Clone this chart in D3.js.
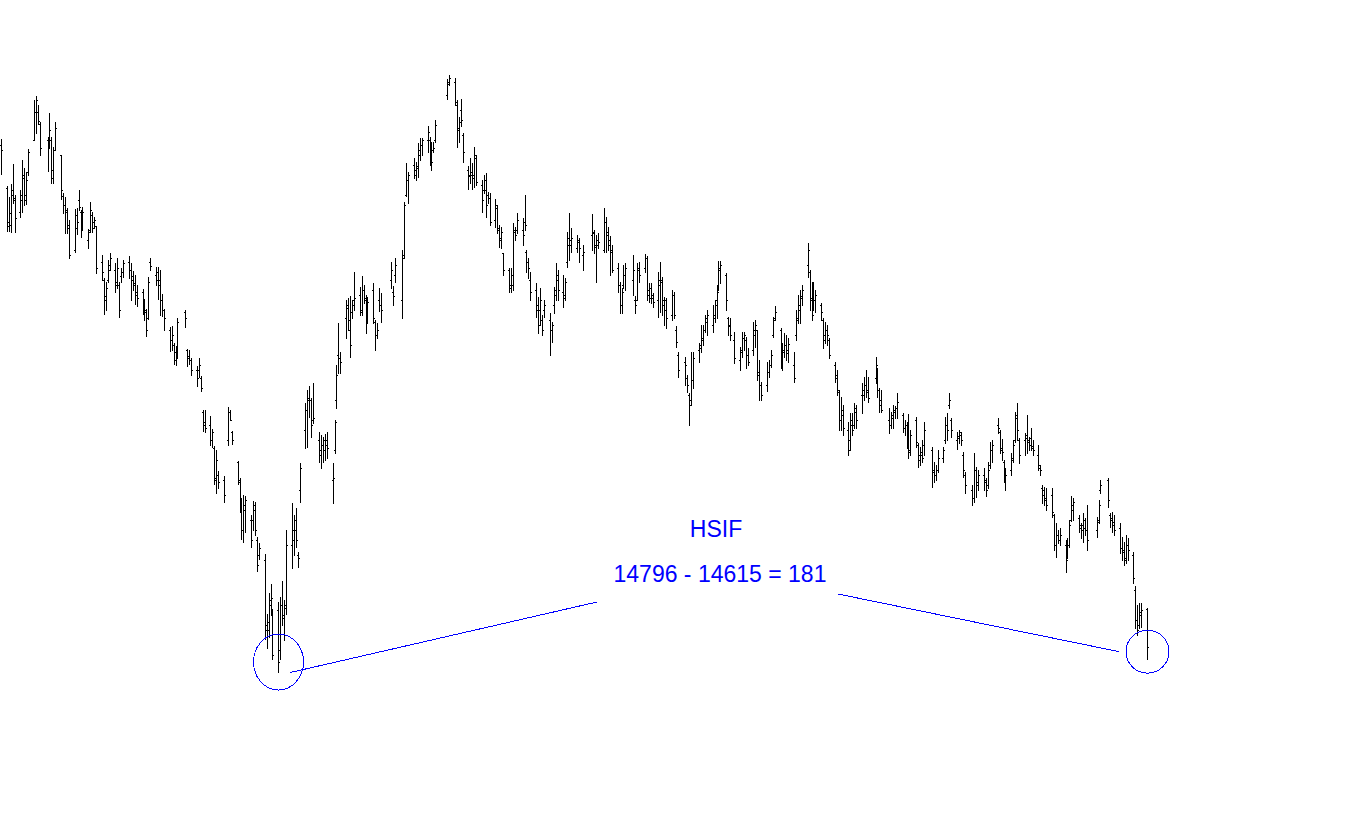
<!DOCTYPE html>
<html>
<head>
<meta charset="utf-8">
<script src="https://cdn.jsdelivr.net/npm/d3@7"></script>
<style>
  body { margin: 0; background: #fff; }
</style>
</head>
<body>
<div id="chart"></div>
<script>
// HSIF daily bars, 10 Jun 2022 - 22 Jan 2024 (one line per month)
var holidays = ["2022-07-01", "2022-09-12", "2022-10-04", "2022-12-26", "2022-12-27",
  "2023-01-02", "2023-01-23", "2023-01-24", "2023-01-25", "2023-04-05", "2023-04-07",
  "2023-04-10", "2023-05-01", "2023-05-26", "2023-06-22", "2023-09-01", "2023-09-08",
  "2023-10-02", "2023-10-23", "2023-12-25", "2023-12-26", "2024-01-01"];

var open = [
  21766, 21183, 20722, 20681, 21156, 21020, 20857, 21088, 21319, 21088, 21400, 21834, 22214, 22214, 22051,
  21834, 21807, 21834, 21427, 21699, 21631, 21074, 20952, 20857, 20640, 20342, 20640, 21020, 20857, 20640, 20477, 20613, 20816, 20722, 20667,
  20179, 19934, 19717, 19934, 20138, 20070, 19907, 19867, 19989, 20043, 20179, 20070, 19989, 19894, 19772, 19772, 19595, 19500, 19419, 20179, 20002, 20043, 19867,
  19663, 19527, 19256, 19120, 19052, 18957, 18917, 19500, 18985, 18903, 18849, 18713, 18713, 18605, 18143, 17967, 17967, 17763, 17655, 17220, 17288,
  17220, 17763, 18143, 17872, 17465, 17220, 16881, 16542, 16881, 16678, 16678, 16881, 16406, 16203, 16135, 15253, 15185, 15592, 15429, 15456,
  14914, 15524, 15348, 15524, 16338, 16542, 16678, 16203, 17085, 17899, 18170, 18306, 18306, 18035, 17763, 17628, 17695, 17763, 17763, 17220, 17628, 18306,
  18917, 18876, 19419, 19554, 19256, 19500, 19663, 19731, 19527, 19799, 19663, 19419, 19799, 19365, 19188, 19663, 19595, 19934, 19772, 20002,
  19663, 20274, 21088, 21291, 21495, 21359, 21454, 21631, 21766, 21834, 21834, 21699, 21699, 21834, 22445, 22621, 22621, 22309,
  21970, 22241, 21902, 21427, 21359, 21400, 21359, 21590, 21223, 21156, 21156, 21088, 21047, 20749, 20911, 20613, 20477, 20301, 20070, 19867,
  19867, 20586, 20613, 20613, 20722, 20314, 20179, 19934, 19799, 19595, 19527, 19392, 19527, 19392, 19256, 19595, 19799, 20002, 19772, 19731, 20179, 20409, 20477,
  20369, 20450, 20274, 20545, 20586, 20382, 20477, 20342, 20722, 20545, 20477, 20342, 20097, 19867, 19595, 19867, 20002,
  19934, 19663, 19663, 20070, 20097, 20233, 19731, 19826, 19690, 19663, 19867, 19907, 19595, 19527, 19459, 19731, 19256, 18917, 18822, 18605, 18374,
  18306, 18577, 18985, 19052, 19120, 19256, 19419, 19324, 19459, 19663, 19867, 20070, 20002, 19419, 19324, 19120, 18849, 18985, 19147, 19120, 18917,
  18985, 19188, 19256, 18645, 18510, 18510, 18686, 18781, 19188, 19419, 19256, 18876, 18957, 19052, 18985, 18781, 19188, 19392, 19595, 19717, 20138,
  20043, 19690, 19731, 19663, 19595, 19392, 19188, 19256, 19120, 18781, 18605, 18415, 18035, 18102, 17899, 17763, 17967, 17967, 18143, 18374, 18442, 18510, 18415,
  18605, 18713, 18442, 18238, 18035, 17967, 18062, 18170, 18197, 18102, 17926, 17967, 17763, 17628, 18035, 17695, 17560, 17560, 17695,
  17628, 17329, 17288, 17356, 17519, 17763, 17967, 18238, 18035, 17763, 17790, 17831, 17560, 17288, 17085, 16976, 17356, 17193, 17288, 17193,
  17153, 17424, 17628, 17967, 17872, 17655, 17465, 17248, 17356, 17519, 17763, 18102, 17763, 17763, 17831, 17736, 17790, 17682, 17560, 17383, 17112, 17017,
  16976, 17017, 16745, 16338, 16474, 16406, 16338, 16243, 16338, 16678, 16881, 16705, 16569, 16610, 16569, 16542, 16542, 16678, 17085,
  17220, 16745, 16705, 16610, 16569, 16298, 16271, 16162, 16338, 16203, 15728, 15321, 15253, 15429, 15470
];

var high = [
  21848, 21210, 21061, 21237, 21509, 21088, 21156, 21563, 21454, 21400, 21712, 22377, 22431, 22309, 22078,
  21875, 22201, 21875, 21739, 22078, 21631, 21115, 21061, 20911, 20749, 20898, 20911, 21156, 20884, 20925, 20627, 20993, 20857, 20789, 20667,
  20274, 19962, 19907, 20206, 20301, 20165, 20233, 19907, 20097, 20206, 20260, 20165, 20057, 20002, 19867, 19812, 19677, 19541, 19975, 20233, 20111, 20111, 20070,
  19744, 19541, 19297, 19310, 19080, 19039, 19419, 19527, 18998, 18985, 18876, 18767, 18876, 18632, 18170, 18170, 18089, 17913, 17682, 17628, 17343,
  17275, 18211, 18170, 17885, 17478, 17248, 16976, 17017, 17003, 16745, 16935, 16922, 16447, 16366, 16216, 15402, 15687, 15809, 15470, 15565,
  15633, 15850, 15592, 16542, 16908, 16745, 16840, 16243, 17451, 18265, 18442, 18496, 18333, 18537, 17872, 17831, 17804, 17845, 17872, 17451, 18035, 18781,
  19351, 18957, 19663, 19690, 19717, 19663, 20043, 19839, 19989, 19867, 19731, 19704, 19894, 19392, 19351, 19826, 19758, 20179, 19853, 20233,
  20342, 20993, 21522, 21400, 21590, 21536, 21794, 21861, 21861, 22024, 21875, 21807, 21807, 22106, 22662, 22716, 22676, 22377,
  22146, 22391, 21929, 21481, 21590, 21522, 21739, 21631, 21291, 21359, 21386, 21129, 21115, 21034, 20952, 20681, 20654, 20301, 20097, 20097,
  20708, 20654, 20844, 20776, 21088, 20342, 20233, 20043, 19894, 19704, 19826, 19459, 19663, 19487, 19365, 19839, 20165, 20070, 20002, 19962, 20586, 20844, 20640,
  20545, 20504, 20409, 20830, 20613, 20545, 20572, 20911, 20789, 20654, 20531, 20409, 20165, 19907, 19826, 20138, 20165,
  20274, 19717, 20165, 20179, 20287, 20260, 19894, 19894, 19758, 20043, 20179, 19975, 19704, 19690, 19799, 19772, 19310, 18957, 18890, 18645, 18401,
  18957, 18957, 19080, 19324, 19324, 19459, 19527, 19595, 19663, 19853, 20192, 20192, 20029, 19432, 19419, 19229, 19025, 19229, 19229, 19161, 19012,
  19365, 19392, 19256, 18849, 18550, 18822, 18849, 18985, 19432, 19582, 19283, 19080, 19215, 19188, 19147, 18957, 19527, 19731, 19799, 19867, 20436,
  20070, 19907, 19907, 19799, 19622, 19419, 19365, 19324, 19147, 18822, 18713, 18442, 18347, 18238, 18008, 18130, 18130, 18265, 18238, 18537, 18618, 18713, 18618,
  18890, 18740, 18469, 18442, 18197, 18143, 18238, 18225, 18401, 18130, 18035, 18008, 18116, 17899, 18075, 17722, 17668, 17763, 18008,
  17668, 17465, 17424, 17628, 17668, 18075, 18130, 18401, 18062, 17872, 17899, 17872, 17600, 17329, 17153, 17587, 17397, 17356, 17383, 17248,
  17465, 17736, 17763, 18062, 17899, 17777, 17492, 17383, 17587, 17763, 18143, 18265, 17790, 17858, 18102, 17804, 17926, 17763, 17695, 17424, 17153, 17125,
  17112, 17112, 16759, 16637, 16542, 16569, 16406, 16433, 16678, 17003, 16976, 16745, 16637, 16773, 16705, 16881, 16718, 16949, 17220,
  17248, 16773, 16786, 16745, 16637, 16447, 16379, 16474, 16433, 16243, 15782, 15524, 15551, 15551, 15483
];

var low = [
  21373, 20599, 20599, 20586, 20979, 20586, 20789, 20857, 20952, 20966, 21359, 21834, 21929, 22051, 21631,
  21414, 21726, 21251, 21251, 21699, 21034, 20844, 20572, 20572, 20233, 20314, 20559, 20884, 20518, 20613, 20369, 20586, 20586, 20640, 20029,
  19934, 19473, 19527, 19907, 20070, 19772, 19826, 19432, 19907, 19975, 19962, 19663, 19799, 19609, 19582, 19473, 19392, 19175, 19405, 20070, 19867, 19677, 19459,
  19446, 19256, 18971, 18985, 18795, 18781, 18876, 19297, 18767, 18795, 18645, 18496, 18618, 18428, 17885, 17872, 17695, 17668, 17166, 17044, 17112,
  16922, 17695, 18035, 17709, 17166, 16786, 16420, 16379, 16515, 16311, 16542, 16474, 15986, 16148, 15063, 14941, 15090, 15388, 14791, 14615,
  14791, 15253, 15049, 15402, 16026, 16203, 16311, 16040, 16922, 17655, 17668, 18075, 17804, 17994, 17465, 17383, 17465, 17492, 17519, 16908, 17587, 18197,
  18672, 18672, 19147, 19256, 18890, 19419, 19527, 19459, 19459, 19622, 19215, 19351, 19351, 18985, 19147, 19514, 19365, 19826, 19595, 19907,
  19419, 20233, 21074, 20979, 21319, 21291, 21332, 21563, 21631, 21671, 21495, 21427, 21671, 21807, 22391, 22581, 22309, 21739,
  21807, 22024, 21536, 21169, 21251, 21169, 21196, 21223, 20857, 21115, 20789, 20979, 20681, 20654, 20572, 20382, 20369, 20002, 19772, 19772,
  19799, 20477, 20572, 20409, 20613, 20043, 19962, 19663, 19432, 19215, 19324, 19188, 19432, 18917, 19093, 19487, 19663, 19663, 19568, 19663, 20111, 20206, 20314,
  20314, 20179, 20070, 20342, 20301, 19907, 20369, 20314, 20314, 20342, 20002, 20043, 19772, 19487, 19487, 19826, 19799,
  19731, 19487, 19663, 19907, 20043, 19663, 19636, 19622, 19568, 19432, 19500, 19459, 19324, 19283, 19392, 19419, 19025, 18618, 18510, 18415, 17967,
  18238, 18469, 18822, 18957, 19052, 19229, 19188, 19229, 19365, 19419, 19799, 19894, 19527, 19188, 19120, 18808, 18713, 18890, 18985, 18740, 18781,
  18917, 19025, 18577, 18306, 18306, 18428, 18618, 18754, 19161, 19392, 18740, 18713, 18890, 18849, 18822, 18550, 19120, 19351, 19351, 19595, 19975,
  19527, 19392, 19527, 19500, 19392, 19012, 19080, 19052, 18876, 18550, 18374, 17899, 17899, 17831, 17560, 17628, 17831, 17926, 17926, 18130, 18306, 18347, 18279,
  18537, 18347, 18143, 18143, 17858, 17926, 17926, 18062, 18062, 17872, 17831, 17655, 17519, 17560, 17668, 17397, 17424, 17465, 17560,
  17125, 17193, 17220, 17329, 17465, 17722, 17763, 18197, 17804, 17641, 17722, 17695, 17261, 17044, 16881, 16922, 16990, 17085, 17085, 17003,
  17112, 17383, 17465, 17858, 17587, 17492, 17193, 17085, 17288, 17465, 17736, 17763, 17451, 17560, 17587, 17628, 17628, 17560, 17356, 17288, 16908, 16881,
  16813, 16718, 16271, 16176, 16366, 16338, 15972, 16162, 16311, 16664, 16678, 16515, 16433, 16379, 16474, 16271, 16447, 16637, 17044,
  16854, 16583, 16515, 16474, 16230, 16135, 16067, 16094, 16135, 15823, 15212, 15117, 15212, 15226, 14796
];

var close = [
  21699, 20667, 20844, 21088, 21047, 20776, 21020, 21359, 21020, 21291, 21671, 22214, 22377, 22092, 21726,
  21766, 21970, 21319, 21699, 21997, 21156, 20952, 20884, 20681, 20274, 20816, 20722, 20925, 20613, 20857, 20586, 20884, 20640, 20749, 20097,
  20043, 19663, 19826, 20070, 20233, 19867, 20097, 19527, 20043, 20165, 20070, 19934, 19867, 19731, 19690, 19595, 19527, 19256, 19907, 20124, 19934, 19934, 19663,
  19527, 19419, 19120, 19188, 18849, 18985, 19365, 19419, 18876, 18849, 18713, 18605, 18781, 18469, 18008, 17926, 17763, 17872, 17248, 17492, 17193,
  17017, 18143, 18035, 17763, 17193, 16881, 16542, 16813, 16949, 16406, 16813, 16542, 16067, 16298, 15185, 15294, 15524, 15619, 14846, 14751,
  15524, 15388, 15483, 16338, 16406, 16542, 16406, 16162, 17383, 18170, 18333, 18306, 17967, 18062, 17560, 17695, 17628, 17695, 17655, 17248, 18008, 18645,
  18876, 18822, 19595, 19392, 19052, 19595, 19690, 19500, 19799, 19690, 19392, 19636, 19419, 19188, 19256, 19595, 19527, 20070, 19717, 20138,
  20233, 20952, 21291, 21359, 21427, 21481, 21699, 21766, 21834, 21943, 21671, 21536, 21726, 22038, 22594, 22676, 22350, 21997,
  22078, 22106, 21671, 21346, 21359, 21319, 21631, 21264, 21020, 21291, 20952, 21047, 20722, 20952, 20640, 20504, 20586, 20070, 19826, 20002,
  20613, 20545, 20749, 20545, 20681, 20179, 20097, 19772, 19527, 19324, 19663, 19256, 19595, 19256, 19324, 19731, 19934, 19799, 19690, 19907, 20504, 20409, 20504,
  20477, 20369, 20314, 20572, 20409, 20409, 20450, 20722, 20586, 20409, 20314, 20070, 19867, 19595, 19772, 20002, 20097,
  20070, 19595, 20097, 20002, 20233, 19799, 19690, 19731, 19636, 19934, 19934, 19663, 19663, 19419, 19731, 19459, 19093, 18713, 18781, 18510, 18238,
  18577, 18876, 19012, 19147, 19256, 19365, 19459, 19419, 19595, 19772, 20097, 20138, 19663, 19310, 19188, 18876, 18957, 19147, 19188, 18917, 18822,
  19256, 19324, 18686, 18510, 18374, 18686, 18781, 18917, 19392, 19500, 18849, 18985, 19052, 18944, 19066, 18605, 19419, 19527, 19690, 19799, 20342,
  19663, 19459, 19663, 19731, 19500, 19120, 19256, 19188, 18917, 18645, 18442, 18035, 18170, 17926, 17628, 18035, 17899, 18197, 18035, 18374, 18510, 18442, 18333,
  18781, 18442, 18306, 18170, 17967, 18102, 18143, 18197, 18279, 17926, 17967, 17763, 17600, 17831, 17736, 17492, 17600, 17519, 17899,
  17356, 17288, 17356, 17519, 17628, 17967, 17899, 18306, 17899, 17818, 17872, 17763, 17356, 17153, 16976, 17356, 17153, 17288, 17220, 17085,
  17356, 17628, 17695, 17926, 17628, 17600, 17248, 17288, 17492, 17695, 18062, 17899, 17560, 17790, 17763, 17695, 17655, 17628, 17424, 17356, 17085, 16949,
  16881, 16786, 16338, 16474, 16406, 16474, 16135, 16338, 16610, 16813, 16922, 16610, 16542, 16678, 16542, 16406, 16650, 16881, 17153,
  16949, 16678, 16650, 16542, 16298, 16243, 16135, 16338, 16271, 15890, 15321, 15185, 15388, 15456, 14955
];

var label = "HSIF";
var markA = "2022-10-31", markB = "2024-01-22";

var width = 1351, height = 819;
var parse = d3.timeParse("%Y-%m-%d"), fmt = d3.timeFormat("%Y-%m-%d");

// trading days: weekdays minus exchange holidays
var days = d3.timeDay.range(new Date(2022, 5, 10), new Date(2024, 0, 23))
  .filter(function(d) { var w = d.getDay(); return w > 0 && w < 6 && holidays.indexOf(fmt(d)) < 0; });
if (days.length !== open.length) console.log("length mismatch", days.length, open.length);

var data = days.map(function(d, i) {
  return { date: d, key: fmt(d), o: open[i], h: high[i], l: low[i], c: close[i] };
});

var svg = d3.select("#chart")
  .append("svg")
    .attr("width", width)
    .attr("height", height)
    .style("display", "block");

svg.append("rect").attr("width", width).attr("height", height).attr("fill", "#fff");

var x = d3.scaleTime()
  .domain(d3.extent(data, function(d) { return d.date; }))
  .range([1, 1147]);

var y = d3.scaleLinear()
  .domain([d3.min(data, function(d) { return d.l; }), d3.max(data, function(d) { return d.h; })])
  .range([672, 75]);

var bars = svg.append("g")
  .attr("fill", "#000")
  .attr("shape-rendering", "crispEdges")
  .selectAll("g")
  .data(data)
  .enter()
  .append("g");

// high-low stick
bars.append("rect")
  .attr("x", function(d) { return Math.round(x(d.date)); })
  .attr("y", function(d) { return Math.round(y(d.h)); })
  .attr("width", 1)
  .attr("height", function(d) { return Math.round(y(d.l)) - Math.round(y(d.h)) + 1; });

// open tick (left) and close tick (right)
bars.append("rect")
  .attr("x", function(d) { return Math.round(x(d.date)) - 1; })
  .attr("y", function(d) { return Math.round(y(d.o)); })
  .attr("width", 1)
  .attr("height", 1);

bars.append("rect")
  .attr("x", function(d) { return Math.round(x(d.date)) + 1; })
  .attr("y", function(d) { return Math.round(y(d.c)); })
  .attr("width", 1)
  .attr("height", 1);

// annotation
var a = data.filter(function(d) { return d.key === markA; })[0];
var b = data.filter(function(d) { return d.key === markB; })[0];
var blue = "#0000ff";
var ann = svg.append("g").attr("fill", "none").attr("stroke", blue).attr("shape-rendering", "crispEdges");

ann.append("ellipse")
  .attr("cx", Math.round(x(a.date)) + 0.5)
  .attr("cy", y(a.l) - 10)
  .attr("rx", 25)
  .attr("ry", 28);

ann.append("circle")
  .attr("cx", Math.round(x(b.date)) + 0.5)
  .attr("cy", y(b.l) - 7)
  .attr("r", 21.5);

ann.append("line")
  .attr("x1", x(a.date) + 12).attr("y1", y(a.l) + 0.5)
  .attr("x2", 597).attr("y2", 602);

ann.append("line")
  .attr("x1", 838).attr("y1", 594)
  .attr("x2", x(b.date) - 28).attr("y2", y(b.l) - 7);

svg.append("text")
  .attr("x", 716)
  .attr("y", 537)
  .attr("text-anchor", "middle")
  .attr("fill", blue)
  .style("font-family", "'Liberation Sans', Arial, sans-serif")
  .style("font-size", "23px")
  .text(label);

svg.append("text")
  .attr("x", 720)
  .attr("y", 582)
  .attr("text-anchor", "middle")
  .attr("fill", blue)
  .style("font-family", "'Liberation Sans', Arial, sans-serif")
  .style("font-size", "23px")
  .text(b.l + " - " + a.l + " = " + (b.l - a.l));
</script>
</body>
</html>
